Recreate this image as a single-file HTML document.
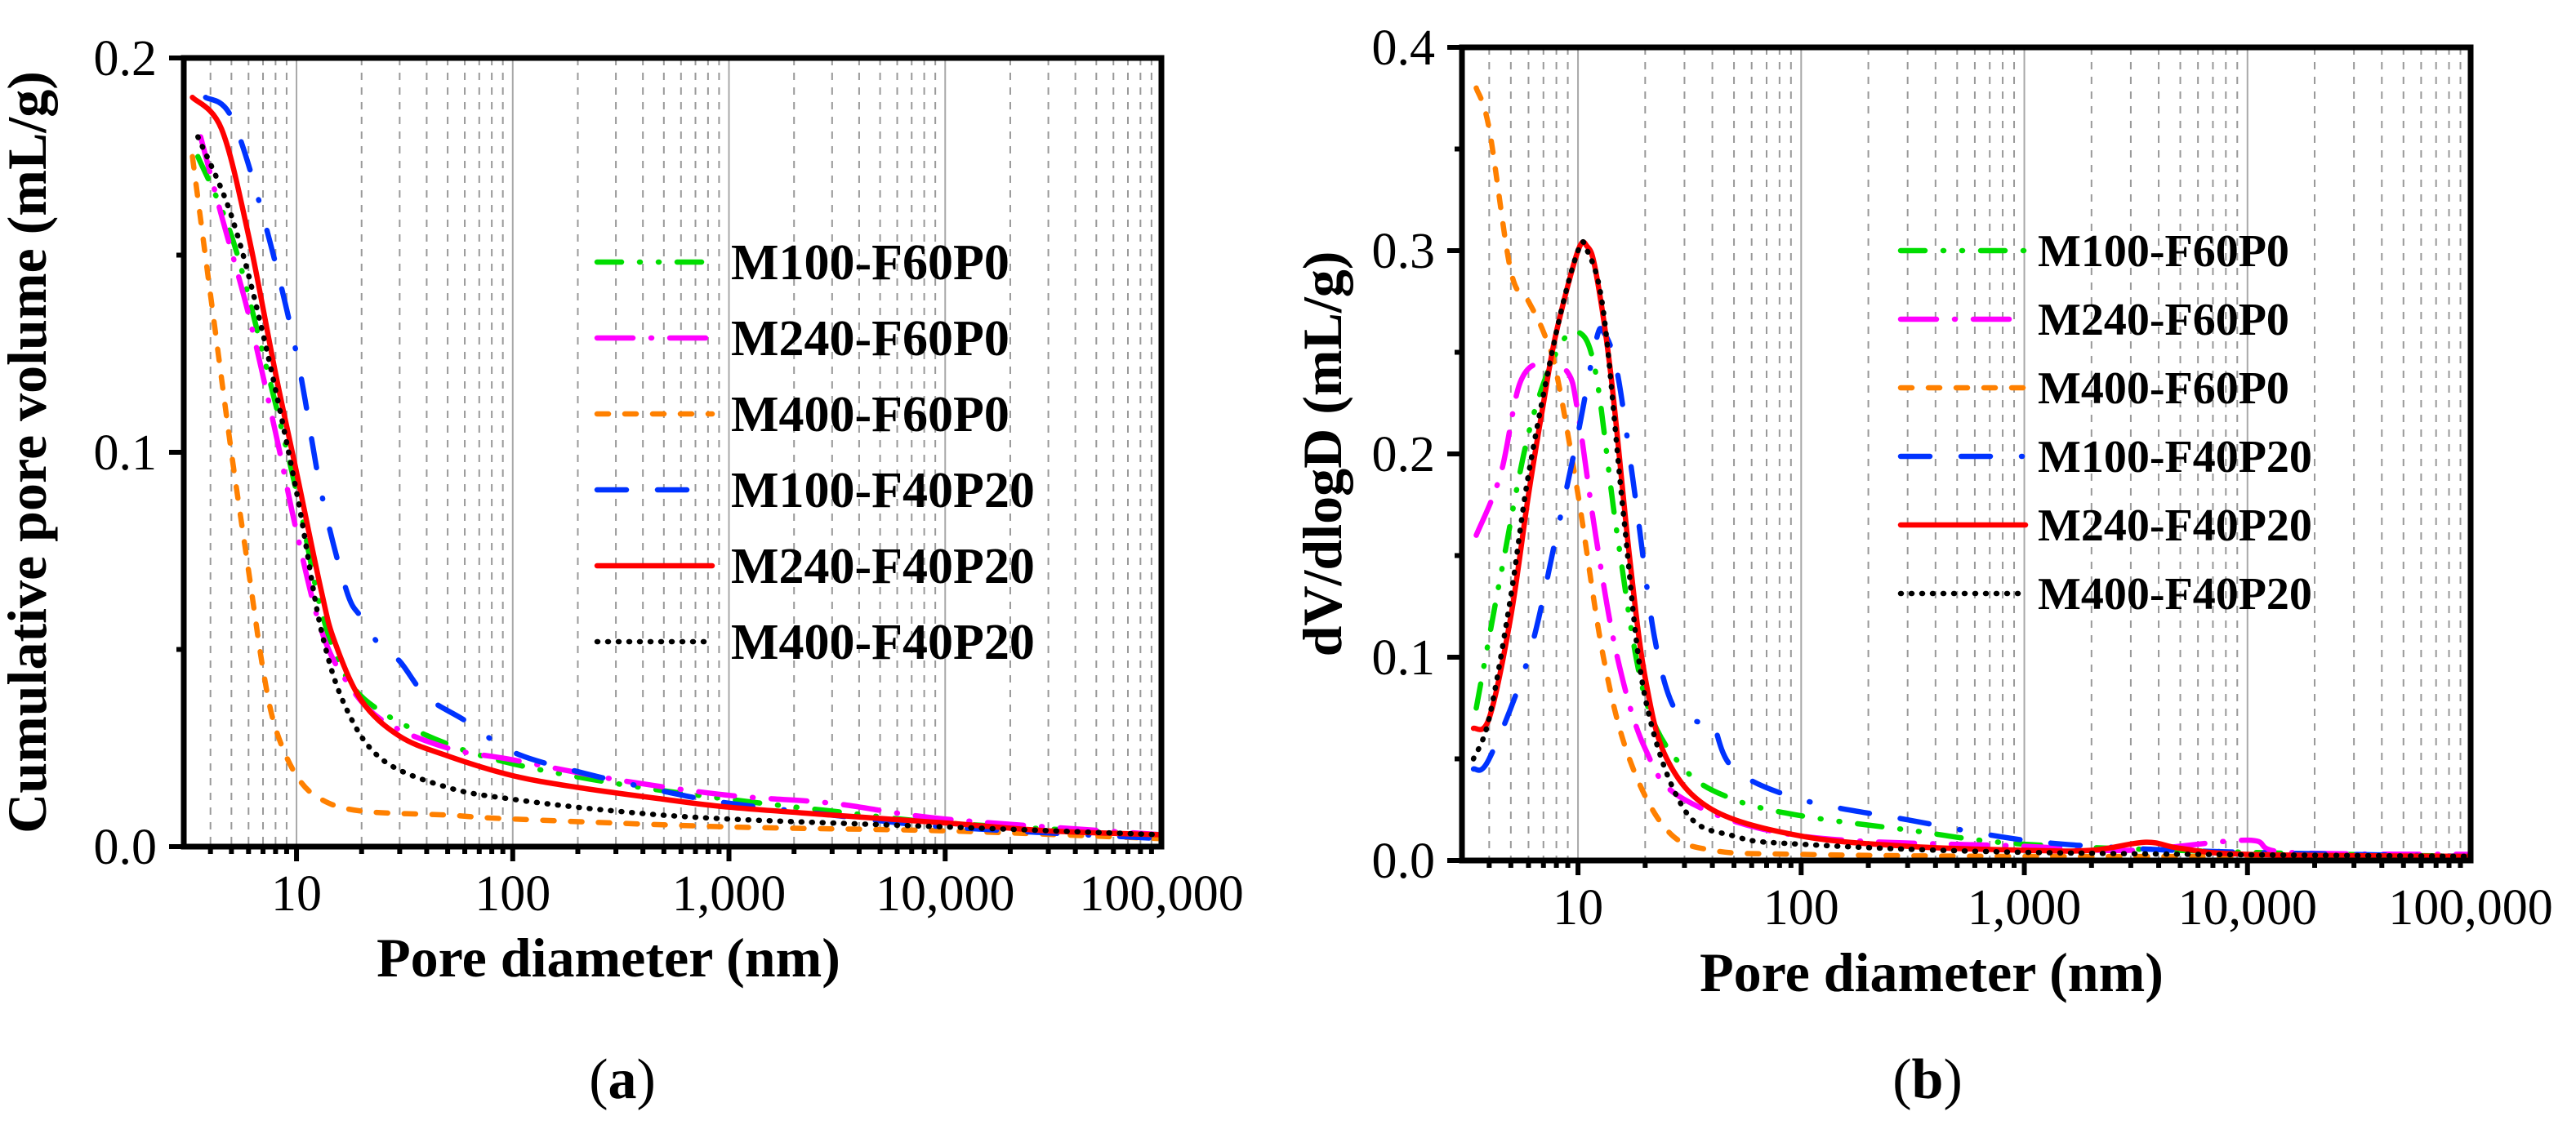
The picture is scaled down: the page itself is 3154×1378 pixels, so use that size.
<!DOCTYPE html>
<html><head><meta charset="utf-8">
<style>
html,body{margin:0;padding:0;background:#fff;}
svg{display:block;}
text{font-family:"Liberation Serif",serif;fill:#000;}
</style></head>
<body>
<svg id="chart" width="3154" height="1378" viewBox="0 0 3154 1378" xmlns="http://www.w3.org/2000/svg"></svg>
<script>
// ---------- data ----------
const seriesNames = ["M100-F60P0","M240-F60P0","M400-F60P0","M100-F40P20","M240-F40P20","M400-F40P20"];
const decadeTicks = [10,100,1000,10000,100000];
const decadeLabels = ["10","100","1,000","10,000","100,000"];
const yTicksA = [0,0.1,0.2];
const yLabelsA = ["0.0","0.1","0.2"];
const yTicksB = [0,0.1,0.2,0.3,0.4];
const yLabelsB = ["0.0","0.1","0.2","0.3","0.4"];

// Panel (a) cumulative pore volume
const a_green_x = [3.5,5,7,10,13,17,25,50,100,300,1000,3000,10000,100000];
const a_green_y = [0.175,0.155,0.125,0.09,0.06,0.043,0.034,0.026,0.021,0.016,0.012,0.009,0.006,0.003];
const a_mag_x = [3.6,4.5,6,8,10,13,17,25,50,100,300,1000,3000,10000,100000];
const a_mag_y = [0.18,0.16,0.135,0.105,0.08,0.055,0.042,0.032,0.025,0.022,0.017,0.013,0.011,0.007,0.003];
const a_orange_x = [3.3,4,5,6,7,8,10,13,20,50,100,1000,10000,100000];
const a_orange_y = [0.175,0.14,0.1,0.07,0.045,0.03,0.018,0.012,0.009,0.008,0.007,0.005,0.004,0.002];
const a_blue_x = [3.8,5,7,10,13,17,20,25,30,40,60,100,200,500,1000,3000,10000,100000];
const a_blue_y = [0.19,0.185,0.16,0.125,0.09,0.065,0.058,0.05,0.047,0.038,0.032,0.024,0.019,0.014,0.011,0.008,0.005,0.002];
const a_red_x = [3.3,4.5,6,8,10,13,15,20,30,50,100,200,500,1000,3000,10000,30000,100000];
const a_red_y = [0.19,0.182,0.155,0.12,0.095,0.065,0.052,0.037,0.028,0.023,0.018,0.015,0.012,0.01,0.008,0.006,0.004,0.003];
const a_black_x = [3.5,5,7,10,13,17,25,50,100,300,1000,10000,100000];
const a_black_y = [0.18,0.16,0.13,0.09,0.055,0.035,0.022,0.015,0.012,0.009,0.007,0.005,0.003];

// Panel (b) dV/dlogD
const b_green_x = [3.5,4.5,6,8,10,12,15,20,30,50,100,300,1000,10000,100000];
const b_green_y = [0.075,0.14,0.21,0.25,0.26,0.24,0.16,0.08,0.045,0.03,0.022,0.015,0.008,0.004,0.002];
const b_mag_x = [3.5,4.5,5.5,7,9,10,12,15,20,30,100,1000,3000,10000,15000,100000];
const b_mag_y = [0.16,0.19,0.235,0.245,0.24,0.22,0.16,0.1,0.055,0.03,0.012,0.007,0.005,0.01,0.004,0.003];
const b_orange_x = [3.5,4,5,6,7,8,10,13,17,25,40,100,1000,100000];
const b_orange_y = [0.38,0.36,0.29,0.275,0.26,0.24,0.18,0.1,0.05,0.015,0.005,0.003,0.002,0.002];
const b_blue_x = [3.4,4,6,8,10,12,13,15,18,22,27,35,40,50,100,300,1000,3000,10000,100000];
const b_blue_y = [0.045,0.05,0.1,0.16,0.21,0.255,0.26,0.24,0.18,0.11,0.075,0.068,0.068,0.045,0.03,0.02,0.01,0.006,0.004,0.002];
const b_red_x = [3.4,4,5,6,7,8,10,11,12,14,17,20,25,40,100,300,1000,2000,3500,5000,10000,100000];
const b_red_y = [0.065,0.07,0.12,0.18,0.225,0.26,0.3,0.302,0.29,0.24,0.15,0.09,0.05,0.025,0.012,0.007,0.005,0.005,0.009,0.006,0.003,0.002];
const b_black_x = [3.4,4,5,6,8,10,11,13,16,20,30,50,100,1000,100000];
const b_black_y = [0.05,0.07,0.13,0.19,0.26,0.3,0.3,0.27,0.17,0.08,0.025,0.012,0.008,0.004,0.002];

// ---------- styles ----------
const colors = ["#00dd00","#ff00ff","#ff8000","#0033ff","#ff0000","#000000"];
const dashes = ["30 22 1 22 1 22","44 22 1 22","14 20","36 38 36 38 1 38","","1 12"];

const NS="http://www.w3.org/2000/svg";
const svg=document.getElementById('chart');
function mk(tag,attrs,parent){const e=document.createElementNS(NS,tag);for(const k in attrs)e.setAttribute(k,attrs[k]);(parent||svg).appendChild(e);return e;}

function smoothPath(pts){
  let d=`M${pts[0][0].toFixed(1)},${pts[0][1].toFixed(1)}`;
  for(let i=0;i<pts.length-1;i++){
    const p0=pts[i-1]||pts[i],p1=pts[i],p2=pts[i+1],p3=pts[i+2]||p2;
    const c1=[p1[0]+(p2[0]-p0[0])/6,p1[1]+(p2[1]-p0[1])/6];
    const c2=[p2[0]-(p3[0]-p1[0])/6,p2[1]-(p3[1]-p1[1])/6];
    d+=` C${c1[0].toFixed(1)},${c1[1].toFixed(1)} ${c2[0].toFixed(1)},${c2[1].toFixed(1)} ${p2[0].toFixed(1)},${p2[1].toFixed(1)}`;
  }
  return d;
}

function panel(cfg){
  const g=mk('g',{});
  
  
  const {L,R,T,B,xmin,xmax,ymax}=cfg;
  const lx0=Math.log10(xmin),lx1=Math.log10(xmax);
  const X=v=>L+(Math.log10(v)-lx0)/(lx1-lx0)*(R-L);
  const Y=v=>B-v/ymax*(B-T);
  const grid=mk('g',{},g);
  
  
  for(let e=0;e<=5;e++){
    for(let m=1;m<=9;m++){
      const v=m*Math.pow(10,e);
      if(v<=xmin||v>=xmax)continue;
      const x=X(v);
      const ln=mk('line',{x1:x,x2:x,y1:T,y2:B,stroke:m===1?'#a8a8a8':'#999',"stroke-width":2,"stroke-dasharray":m===1?'':'9 9'},grid);
      
      
      const tk=mk('line',{x1:x,x2:x,y1:B,y2:B+(m===1?18:9),stroke:'#000',"stroke-width":6},g);
      
      
    }
  }
  decadeTicks.forEach((v,i)=>{
    const t=mk('text',{x:X(v),y:B+78,"font-size":62,"text-anchor":"middle"},g);
    t.textContent=decadeLabels[i];
    
    
  });
  cfg.yTicks.forEach((v,i)=>{
    const y=Y(v);
    const tk=mk('line',{x1:L-18,x2:L,y1:y,y2:y,stroke:'#000',"stroke-width":6},g);
    
    
    if(i<cfg.yTicks.length-1){
      const ym=Y(v+(cfg.yTicks[1]-cfg.yTicks[0])/2);
      const mt=mk('line',{x1:L-9,x2:L,y1:ym,y2:ym,stroke:'#000',"stroke-width":6},g);
      
      
    }
    const t=mk('text',{x:cfg.ylabX,y:y+21,"font-size":62,"text-anchor":"end"},g);
    t.textContent=cfg.yLabels[i];
    
    
  });
  cfg.series.forEach((s,i)=>{
    const pts=s[0].map((xv,j)=>[X(xv),Y(s[1][j])]);
    const p=mk('path',{d:smoothPath(pts),fill:'none',stroke:colors[i],"stroke-width":6.5,"stroke-linecap":"round","stroke-linejoin":"round"},g);
    if(dashes[i])p.setAttribute('stroke-dasharray',dashes[i]);
    
    
  });
  const fr=mk('rect',{x:L,y:T,width:R-L,height:B-T,fill:'none',stroke:'#000',"stroke-width":7},g);
  
  
  const lg=mk('g',{},g);
  
  
  seriesNames.forEach((n,i)=>{
    const y=cfg.lgY+i*cfg.lgDy;
    const ln=mk('line',{x1:cfg.lgX1,x2:cfg.lgX2,y1:y,y2:y,stroke:colors[i],"stroke-width":6.5,"stroke-linecap":"round"},lg);
    if(dashes[i])ln.setAttribute('stroke-dasharray',dashes[i]);
    
    
    const t=mk('text',{x:cfg.lgTx,y:y+cfg.lgFs*0.34,"font-size":cfg.lgFs,"font-weight":"bold"},lg);
    t.textContent=n;
    
    
  });
  const xt=mk('text',{x:cfg.xtX,y:cfg.xtY,"font-size":68,"font-weight":"bold","text-anchor":"middle"},g);
  xt.textContent='Pore diameter (nm)';
  
  
  const yt=mk('text',{x:0,y:0,"font-size":68,"font-weight":"bold","text-anchor":"middle",transform:`translate(${cfg.ytX},${(T+B)/2}) rotate(-90)`},g);
  yt.textContent=cfg.yTitle;
  
  
  const pl=mk('text',{x:cfg.plX,y:1345,"font-size":70,"text-anchor":"middle"},g);
  pl.innerHTML='(<tspan font-weight="bold">'+cfg.letter+'</tspan>)';
  
  
}

panel({name:'panel-a-cumulative',L:225,R:1422,T:71,B:1037,xmin:3.01,xmax:100000,ymax:0.2,
  yTicks:yTicksA,yLabels:yLabelsA,ylabX:192,
  series:[[a_green_x,a_green_y],[a_mag_x,a_mag_y],[a_orange_x,a_orange_y],[a_blue_x,a_blue_y],[a_red_x,a_red_y],[a_black_x,a_black_y]],
  lgX1:731,lgX2:872,lgTx:895,lgY:321,lgDy:93,lgFs:62,
  xtX:745,xtY:1196,ytX:56,yTitle:'Cumulative pore volume (mL/g)',plX:762,letter:'a'});
panel({name:'panel-b-differential',L:1790,R:3025,T:58,B:1054,xmin:3.02,xmax:100000,ymax:0.4,
  yTicks:yTicksB,yLabels:yLabelsB,ylabX:1757,
  series:[[b_green_x,b_green_y],[b_mag_x,b_mag_y],[b_orange_x,b_orange_y],[b_blue_x,b_blue_y],[b_red_x,b_red_y],[b_black_x,b_black_y]],
  lgX1:2327,lgX2:2480,lgTx:2495,lgY:307,lgDy:84,lgFs:56,
  xtX:2365,xtY:1214,ytX:1642,yTitle:'dV/dlogD (mL/g)',plX:2360,letter:'b'});
</script>
</body></html>
